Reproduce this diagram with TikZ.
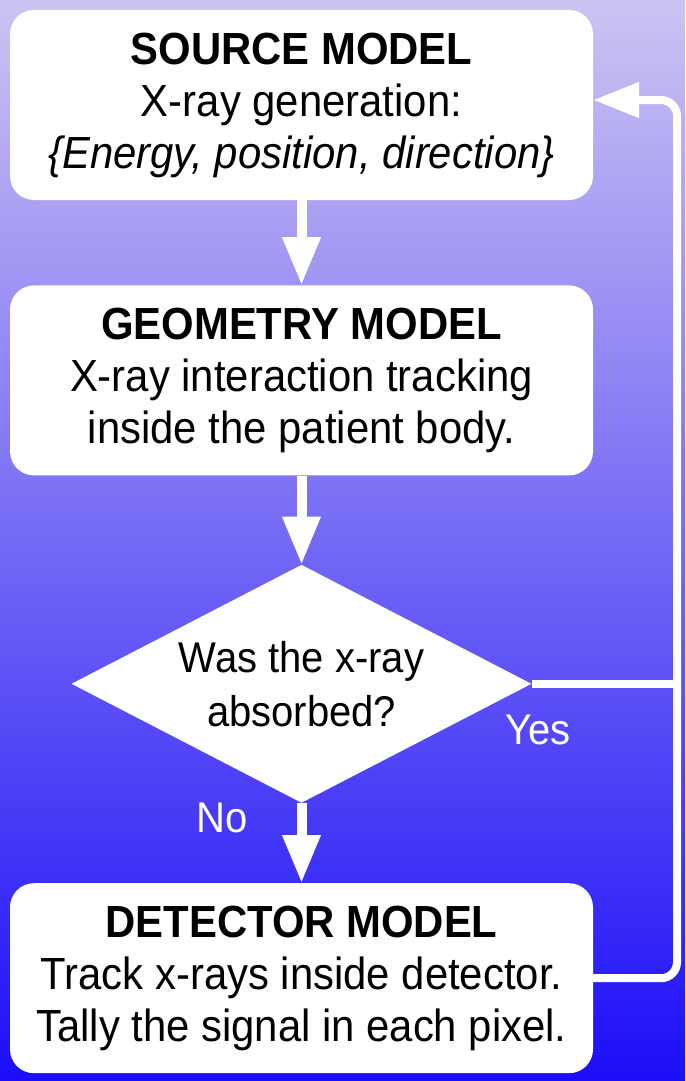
\documentclass[tikz,border=0pt]{standalone}
\usepackage{fontspec}
\setmainfont{Liberation Sans}[FakeStretch=0.93]
\usetikzlibrary{positioning,arrows.meta,shapes.geometric}
\definecolor{bgtop}{RGB}{204,196,242}
\definecolor{bgmid}{RGB}{100,92,240}
\definecolor{bgbot}{RGB}{28,14,248}

\begin{document}
\begin{tikzpicture}[
    x=1pt, y=-1pt,
    font=\fontsize{45}{52}\selectfont,
    box/.style={fill=white, rounded corners=24pt, minimum width=583pt,
                minimum height=190pt, align=center, inner sep=0pt},
    dec/.style={diamond, fill=white, minimum width=460pt, minimum height=238pt,
                aspect=1.93, inner sep=0pt, align=center,
                font=\fontsize{43}{54}\selectfont},
    flow/.style={-{Triangle[width=36pt,length=48pt]}, line width=10pt, white},
    fb/.style={line width=8pt, white},
    lbl/.style={text=white, font=\fontsize{43}{48}\selectfont}
]
\useasboundingbox (0,0) rectangle (685,1081);
\shade[top color=bgtop, middle color=bgmid, bottom color=bgbot] (0,0) rectangle (685,1081);

\node[box] (src) at (301.5,105) {\textbf{SOURCE MODEL}\\X-ray generation:\\\textit{\{Energy, position, direction\}}};
\node[box, below=85pt of src] (geo) {\textbf{GEOMETRY MODEL}\\X-ray interaction tracking\\inside the patient body.};
\node[dec, below=89pt of geo] (dia) {Was the x-ray\\absorbed?};
\node[box, below=80pt of dia] (det) {\textbf{DETECTOR MODEL}\\Track x-rays inside detector.\\Tally the signal in each pixel.};

\node[lbl] (yes) at (538,730) {Yes};
\node[lbl] (no) at (222,818) {No};
\coordinate (rt) at (677,100);

\draw[flow] (src) -- (geo);
\draw[flow] (geo) -- (dia);
\draw[flow] (dia) -- (det);
\draw[fb] (dia.east) -- (dia.east -| rt);
\draw[fb, rounded corners=16pt, -{Triangle[width=34pt,length=46pt]}] (det.east) -| (rt) -- (src.east |- rt);
\end{tikzpicture}
\end{document}
